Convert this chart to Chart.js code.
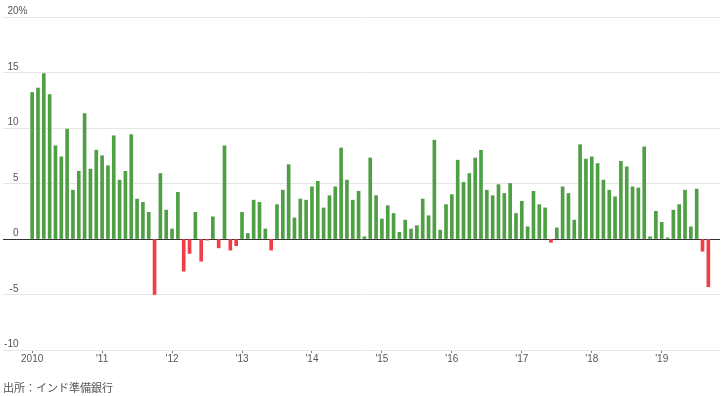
<!DOCTYPE html>
<html>
<head>
<meta charset="utf-8">
<script src="https://cdn.jsdelivr.net/npm/chart.js@4"></script>
<style>
html, body { margin: 0; padding: 0; background: #fff; }
#wrap { position: relative; width: 727px; height: 396px; }
#source { position: absolute; left: 3px; top: 379px; font: 11px "Noto Sans CJK JP", sans-serif; color: #555; line-height: 16px; }
</style>
</head>
<body>
<div id="wrap">
  <canvas id="chart" width="727" height="396"></canvas>
  <div id="source">出所：インド準備銀行</div>
</div>
<script>
// monthly values, Jan 2010 .. Sep 2019 (%)
const values = [
  13.2, 13.6, 14.9, 13.0, 8.4, 7.4, 9.9, 4.4, 6.1, 11.3, 6.3, 8.0,
  7.5, 6.6, 9.3, 5.3, 6.1, 9.4, 3.6, 3.3, 2.4, -5.0, 5.9, 2.6,
  0.9, 4.2, -2.9, -1.3, 2.4, -2.0, -0.1, 2.0, -0.8, 8.4, -1.0, -0.6,
  2.4, 0.5, 3.5, 3.3, 0.9, -1.0, 3.1, 4.4, 6.7, 1.9, 3.6, 3.5,
  4.7, 5.2, 2.8, 3.9, 4.7, 8.2, 5.3, 3.5, 4.3, 0.2, 7.3, 3.9,
  1.8, 3.0, 2.3, 0.6, 1.7, 0.9, 1.2, 3.6, 2.1, 8.9, 0.8, 3.1,
  4.0, 7.1, 5.1, 5.9, 7.3, 8.0, 4.4, 3.9, 4.9, 4.1, 5.0, 2.3,
  3.4, 1.1, 4.3, 3.1, 2.8, -0.3, 1.0, 4.7, 4.1, 1.7, 8.5, 7.2,
  7.4, 6.8, 5.3, 4.4, 3.8, 7.0, 6.5, 4.7, 4.6, 8.3, 0.2, 2.5,
  1.5, 0.1, 2.6, 3.1, 4.4, 1.1, 4.5, -1.1, -4.3
];
const yearTicks = [0, 12, 24, 36, 48, 60, 72, 84, 96, 108];
const yearLabels = ['2010', "'11", "'12", "'13", "'14", "'15", "'16", "'17", "'18", "'19"];
const yTicks = [-10, -5, 0, 5, 10, 15, 20];

const GREEN = '#4f9f44';
const RED = '#ef3e4a';
const tickFont = { family: '"Liberation Sans", Arial, sans-serif', size: 10 };

// y labels sit just above their gridline, numbers right aligned, "%" on the top one
const yLabels = {
  id: 'yLabels',
  afterDraw(chart) {
    const { ctx, scales: { y } } = chart;
    ctx.save();
    ctx.font = '10px "Liberation Sans", Arial, sans-serif';
    ctx.fillStyle = '#555';
    ctx.textBaseline = 'middle';
    yTicks.forEach(v => {
      const py = y.getPixelForValue(v) - 5.5;
      ctx.textAlign = 'right';
      ctx.fillText(String(v), 18.5, py);
      if (v === yTicks[yTicks.length - 1]) {
        ctx.textAlign = 'left';
        ctx.fillText('%', 18.5, py);
      }
    });
    ctx.restore();
  }
};

new Chart(document.getElementById('chart'), {
  type: 'bar',
  data: {
    datasets: [{
      data: values.map((v, i) => ({ x: i, y: v })),
      backgroundColor: values.map(v => v >= 0 ? GREEN : RED),
      borderWidth: 0,
      barThickness: 3
    }]
  },
  options: {
    responsive: false,
    animation: false,
    layout: { padding: { top: 17, left: 3, right: 7, bottom: 31 } },
    plugins: { legend: { display: false }, tooltip: { enabled: false } },
    scales: {
      x: {
        type: 'linear',
        offset: false,
        min: -5,
        max: 118,
        afterBuildTicks: s => { s.ticks = yearTicks.map(v => ({ value: v })); },
        ticks: {
          autoSkip: false,
          maxRotation: 0,
          padding: 0,
          color: '#555',
          font: tickFont,
          callback: (v, i) => yearLabels[i]
        },
        grid: { offset: false, drawOnChartArea: false, drawTicks: true, tickLength: 3, tickColor: '#777' },
        border: { display: false }
      },
      y: {
        min: -10,
        max: 20,
        afterBuildTicks: s => { s.ticks = yTicks.map(v => ({ value: v })); },
        ticks: { display: false },
        grid: {
          drawTicks: false,
          color: c => (c.tick && c.tick.value === 0) ? '#333' : '#e6e6e6'
        },
        border: { display: false }
      }
    }
  },
  plugins: [yLabels]
});
</script>
</body>
</html>
